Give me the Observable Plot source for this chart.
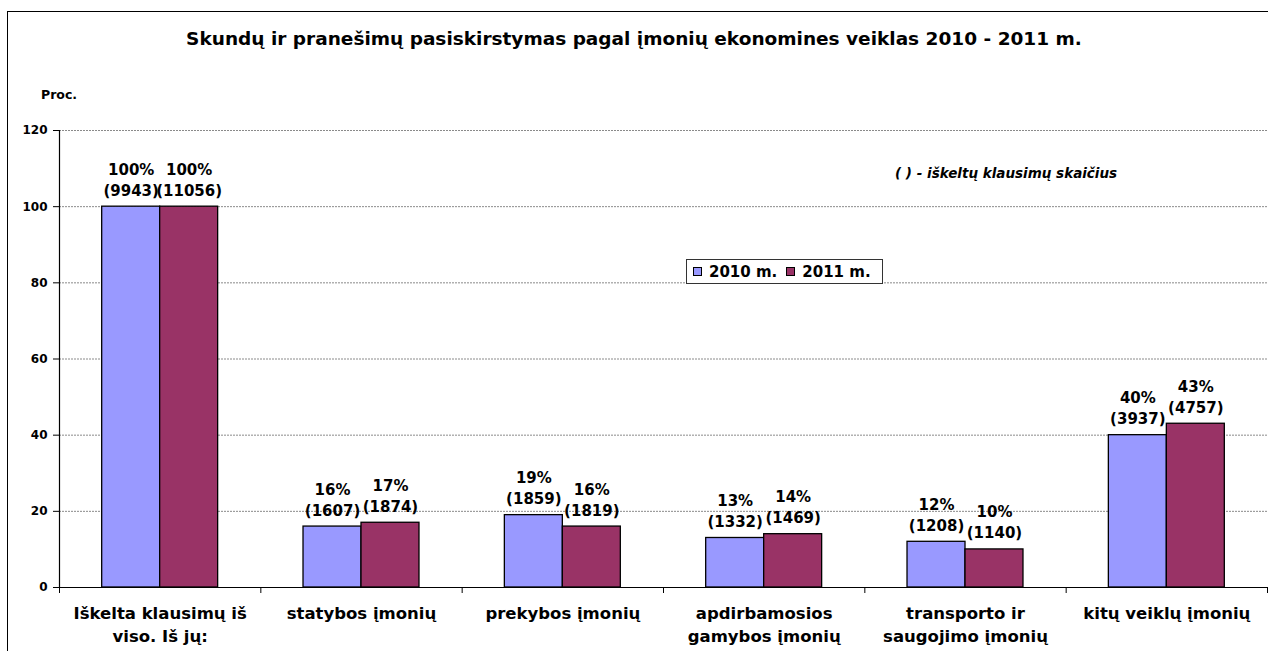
<!DOCTYPE html>
<html><head><meta charset="utf-8">
<script src="https://cdn.jsdelivr.net/npm/d3@7"></script>
<script src="https://cdn.jsdelivr.net/npm/@observablehq/plot@0.6"></script>
<style>
html,body{margin:0;padding:0;background:#fff;overflow:hidden}
#wrap{position:relative;width:1268px;height:651px;font-family:"DejaVu Sans",sans-serif;font-weight:bold;color:#000;overflow:hidden}
#wrap svg{position:absolute;left:0;top:0}
.abs{position:absolute;line-height:1;white-space:nowrap}
#frameTop{position:absolute;left:7px;top:11px;width:1261px;height:0;border-top:1.5px solid #000}
#frameLeft{position:absolute;left:7px;top:11px;width:0;height:640px;border-left:1.5px solid #000}
#title{left:0;width:1268px;text-align:center;top:30px;font-size:18.5px}
#proc{left:41px;top:89px;font-size:12.5px}
#note{left:895px;top:167px;font-size:13.5px;font-style:italic}
#legend{position:absolute;left:686px;top:259px;width:197px;height:25px;box-sizing:border-box;border:1px solid #333;background:#fff;display:flex;align-items:center;padding-left:6px;font-size:15px;white-space:nowrap}
#legend .sw{width:7px;height:7px;border:1px solid #000;display:inline-block;margin-right:7px;flex-shrink:0}
#legend .it{display:flex;align-items:center;margin-right:9px;flex-shrink:0;white-space:nowrap}
</style></head><body>
<div id="wrap">
  <div id="frameTop"></div><div id="frameLeft"></div>
  <div class="abs" id="title"></div>
  <div class="abs" id="proc"></div>
  <div class="abs" id="note"></div>
  <div id="legend"></div>
</div>
<script>
const titleText = "Skundų ir pranešimų pasiskirstymas pagal įmonių ekonomines veiklas 2010  - 2011 m.";
const yLabel = "Proc.";
const noteText = "( )  - iškeltų klausimų skaičius";
const categories = [
  "Iškelta klausimų iš\nviso. Iš jų:",
  "statybos įmonių",
  "prekybos įmonių",
  "apdirbamosios\ngamybos įmonių",
  "transporto ir\nsaugojimo įmonių",
  "kitų veiklų įmonių"
];
const years = ["2010 m.", "2011 m."];
const values2010 = [100, 16, 19, 13, 12, 40];
const values2011 = [100, 17, 16, 14, 10, 43];
const counts2010 = [9943, 1607, 1859, 1332, 1208, 3937];
const counts2011 = [11056, 1874, 1819, 1469, 1140, 4757];
const yTicks = [0, 20, 40, 60, 80, 100, 120];
const colors = ["#9999FF", "#993366"];

const rows = categories.flatMap((c, i) => [
  {cat: c, i, year: years[0], value: values2010[i], count: counts2010[i], side: -1},
  {cat: c, i, year: years[1], value: values2011[i], count: counts2011[i], side: 1}
]);
const barW = 0.288; // bar width as a fraction of a category band

document.getElementById("title").textContent = titleText;
document.getElementById("proc").textContent = yLabel;
document.getElementById("note").textContent = noteText;
const leg = document.getElementById("legend");
years.forEach((y, k) => {
  const it = document.createElement("span"); it.className = "it";
  const sw = document.createElement("span"); sw.className = "sw"; sw.style.background = colors[k];
  it.appendChild(sw); it.appendChild(document.createTextNode(y));
  leg.appendChild(it);
});

const chart = Plot.plot({
  width: 1268, height: 651,
  marginLeft: 59, marginRight: 1, marginTop: 130, marginBottom: 64,
  style: {fontFamily: "DejaVu Sans", fontWeight: "bold", background: "transparent", overflow: "visible", color: "#000"},
  x: {domain: [0, categories.length], axis: null},
  y: {domain: [0, 120], axis: null},
  color: {domain: years, range: colors},
  marks: [
    Plot.gridY(yTicks.slice(1), {stroke: "#8a8a8a", strokeOpacity: 1, strokeWidth: 1, strokeDasharray: "2,1"}),
    Plot.axisY(yTicks, {label: null, tickSize: 6, tickPadding: 6, fontSize: 12, fontWeight: "bold", stroke: "#000"}),
    Plot.rect(rows, {
      x1: d => d.side < 0 ? d.i + 0.5 - barW : d.i + 0.5,
      x2: d => d.side < 0 ? d.i + 0.5 : d.i + 0.5 + barW,
      y1: d => 0, y2: "value",
      fill: "year", stroke: "#000", strokeWidth: 1.3
    }),
    Plot.ruleX([0], {stroke: "#000", strokeWidth: 1.2}),
    Plot.ruleY([0], {stroke: "#000", strokeWidth: 1.2}),
    Plot.axisX(d3.range(categories.length + 1), {label: null, tickSize: 6, tickFormat: () => "", stroke: "#000"}),
    Plot.text(rows, {
      x: d => d.i + 0.5 + d.side * barW / 2, y: "value",
      text: d => `${d.value}%\n(${d.count})`,
      lineAnchor: "bottom", lineHeight: 1.4, dy: -11, fontSize: 15, fontWeight: "bold", fill: "#000"
    }),
    Plot.text(categories, {
      x: (d, i) => i + 0.5, y: d => 0, text: d => d,
      lineAnchor: "top", dy: 16, lineHeight: 1.35, fontSize: 16.5, fontWeight: "bold", fill: "#000"
    })
  ]
});
document.getElementById("wrap").insertBefore(chart, document.getElementById("frameTop"));
</script>
</body></html>
